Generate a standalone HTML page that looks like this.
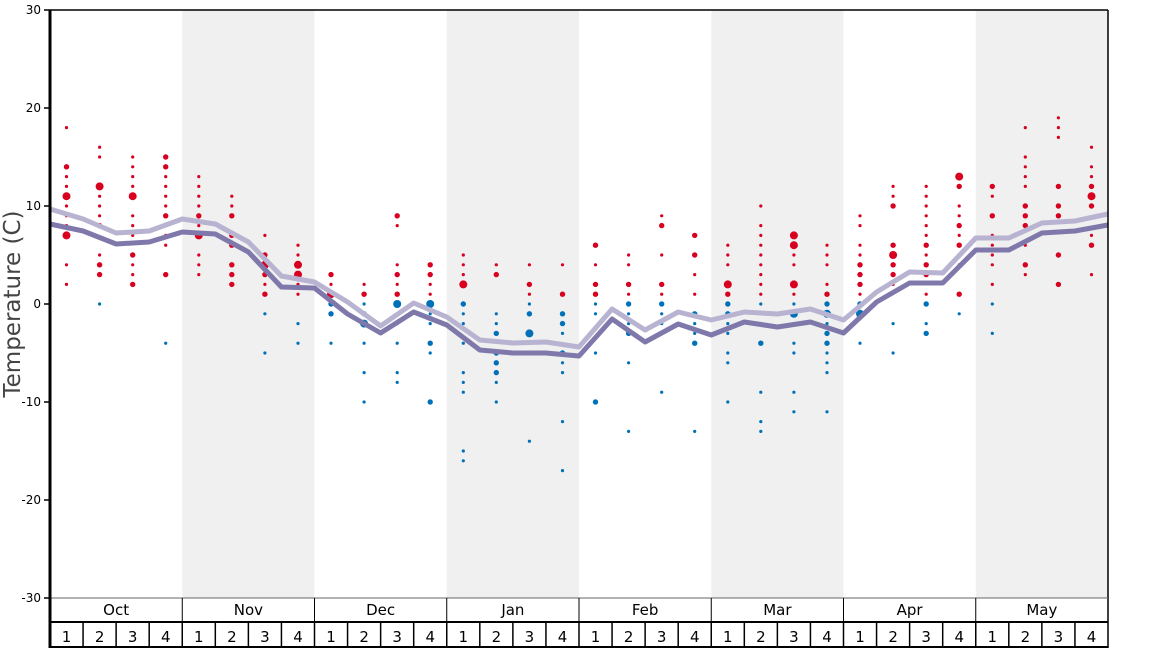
<!DOCTYPE html>
<html><head><meta charset="utf-8"><style>
html,body{margin:0;padding:0;background:#fff;width:1168px;height:648px;overflow:hidden}
svg{display:block;font-family:"DejaVu Sans","Liberation Sans",sans-serif}
</style></head><body>
<svg id="c" width="1168" height="648" viewBox="0 0 1168 648" xmlns="http://www.w3.org/2000/svg">
<g id="bg"></g>
<g id="dots"></g>
<g id="lines"></g>
<g id="axes"></g>
</svg>
<script>
const NS="http://www.w3.org/2000/svg";
function el(p,t,a,txt){const e=document.createElementNS(NS,t);for(const k in a)e.setAttribute(k,a[k]);if(txt!==undefined)e.textContent=txt;document.getElementById(p).appendChild(e);return e;}
const X0=50,X1=1108,W=(X1-X0)/32;
const Y=t=>304-9.8*t;
for(let m=1;m<8;m+=2) el('bg','rect',{x:X0+m*4*W,y:10,width:4*W,height:588,fill:'#f0f0f0'});
const D=[
"18 14m 13 12 11L 10 9 8 7L 4 2",
"16 15 12L 11 10 9 8m 5 4m 3m 0",
"15 14 13 12 11L 9 8 7 5m 4 3 2m",
"15m 14m 13 12 11 10 9m 8 7 6 3m -4",
"13 12 11 10 9m 8 7L 5 4 3",
"11 10 9m 7m 6m 4m 3m 2m",
"7 5m 4L 3m 2 1m -1 -5",
"6 5 4L 3L 2 1 -2 -4",
"3m 2 1L 0m -1m -4",
"2 1m 0 -1m -2L -4 -7 -10",
"9m 8 4 3m 2 1m 0L -2 -4 -7 -8",
"4m 3m 2 1 0L -1 -2 -4m -5 -10m",
"5 4 3 2L 0m -1 -2 -4 -7 -8 -9 -15 -16",
"4 3m -1 -2 -3m -5m -6m -7m -8 -10",
"4 2m 1 0 -1m -3L -5 -14",
"4 1m -1m -2m -3 -5m -6 -7 -12 -17",
"6m 4 2m 1m 0 -1 -5 -10m",
"5 4 2m 1 0m -1 -2 -3m -6 -13",
"9 8m 5 2m 1 0m -1 -2 -3 -9",
"7m 5m 3 1 -1m -2 -3 -4m -13",
"6 5 4 2L 1m 0m -1m -2 -3 -5 -6 -10",
"10 8 7 6 5 4 3 2 1 0 -1 -2 -4m -9 -12 -13",
"7L 6L 5 4 2L 1 0 -1L -2 -4 -5 -9 -11",
"6 5 4 2 1m 0m -1L -2 -3m -4m -5 -6 -7 -11",
"9 8 6 5 4m 3m 2m 1 0m -1L -4",
"12 11 10m 6m 5L 4m 3m 2 -2 -5",
"12 11 10 9 8 7 6m 5 4m 3m 1 0m -2 -3m",
"13L 12m 10 9 8m 7 6m 5 4 1m -1",
"12m 11 9m 7 6 5 4 2 0 -3",
"18 15 14 13 12 10m 9m 8m 6 4m 3",
"19 18 17 12m 10m 9m 5m 2m",
"16 14 13 12m 11L 10m 7 6m 3"];
D.forEach((s,i)=>{const x=X0+W*(i+0.5);s.split(' ').forEach(v=>{let r=1.6;if(v.endsWith('m')){r=2.7;v=v.slice(0,-1);}else if(v.endsWith('L')){r=4;v=v.slice(0,-1);}const t=+v;el('dots','circle',{cx:x.toFixed(1),cy:Y(t).toFixed(1),r:r,fill:t>0?'#d7001f':'#0070b8'});});});
const dark=[224,231,244,242,232,234,252,287,288,314,333,312,325,350,353,353,356,319,342,324,335,322,327,322,333,302,283,283,250,250,233,231,225];
const light=[209,219,233,231,219,224,242,276,282,302,326,303,317,340,343,342,347,309,330,312,320,312,314,309,320,292,272,273,238,238,223,221,214];
const pts=a=>a.map((y,i)=>(X0+W*i).toFixed(1)+','+y).join(' ');
el('lines','polyline',{points:pts(light),fill:'none',stroke:'#b7b3d1',"stroke-width":5,"stroke-linejoin":'round'});
el('lines','polyline',{points:pts(dark),fill:'none',stroke:'#7f78ab',"stroke-width":5,"stroke-linejoin":'round'});
el('axes','line',{x1:X0,y1:10,x2:X1,y2:10,stroke:'#000','stroke-width':1.5});
el('axes','line',{x1:X1,y1:10,x2:X1,y2:648,stroke:'#000','stroke-width':1.5});
el('axes','line',{x1:X0,y1:598,x2:X1,y2:598,stroke:'#666','stroke-width':1});
el('axes','line',{x1:X0,y1:622,x2:X1,y2:622,stroke:'#000','stroke-width':2});
el('axes','line',{x1:X0,y1:647,x2:X1,y2:647,stroke:'#000','stroke-width':2});
for(let t=-30;t<=30;t+=10){const y=Y(t);el('axes','line',{x1:44,y1:y,x2:X0,y2:y,stroke:'#000','stroke-width':1.5});el('axes','text',{x:41,y:y+4,'font-size':12,'text-anchor':'end',fill:'#000'},t);}
const M=['Oct','Nov','Dec','Jan','Feb','Mar','Apr','May'];
M.forEach((m,i)=>{const x=X0+i*4*W;if(i>0)el('axes','line',{x1:x,y1:598,x2:x,y2:622,stroke:'#000','stroke-width':1});el('axes','text',{x:x+2*W,y:615,'font-size':15,'text-anchor':'middle',fill:'#000'},m);
for(let w=0;w<4;w++){const xx=x+w*W;if(i>0||w>0)el('axes','line',{x1:xx,y1:622,x2:xx,y2:648,stroke:'#000','stroke-width':1.5});el('axes','text',{x:xx+W/2,y:642,'font-size':15,'text-anchor':'middle',fill:'#000'},w+1);}});
el('axes','line',{x1:X0,y1:10,x2:X0,y2:648,stroke:'#000','stroke-width':3});
el('axes','text',{x:0,y:0,'font-size':23,'text-anchor':'middle',fill:'#444',transform:'translate(20,304) rotate(-90)'},'Temperature (C)');
</script>
</body></html>
